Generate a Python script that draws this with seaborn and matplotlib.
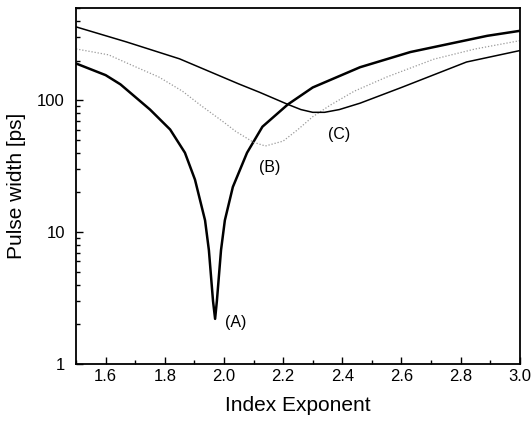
import numpy as np
import pandas as pd

import matplotlib
matplotlib.use("Agg")
import matplotlib.pyplot as plt
import seaborn as sns
from matplotlib.ticker import MultipleLocator, LogLocator, NullFormatter, FixedLocator

# curve (A): thick black
a_x = [1.50, 1.60, 1.65, 1.75, 1.818, 1.868, 1.902, 1.936, 1.949, 1.963, 1.970, 1.976,
       1.99, 2.003, 2.03, 2.078, 2.13, 2.216, 2.30, 2.46, 2.63, 2.89, 3.00]
a_y = [190, 155, 132, 85, 60, 40, 25, 12.3, 7.3, 3.0, 2.2, 3.0,
       7.3, 12.3, 22, 40, 63, 93, 125, 178, 232, 308, 336]

# curve (B): dotted grey
b_x = [1.50, 1.61, 1.68, 1.78, 1.86, 1.92, 2.00, 2.04, 2.10, 2.14, 2.20, 2.25, 2.30,
       2.36, 2.44, 2.55, 2.71, 2.85, 3.00]
b_y = [245, 221, 188, 150, 117, 92, 68, 58, 48, 45, 49, 60, 75,
       92, 117, 150, 205, 245, 283]

# curve (C): thin black
c_x = [1.50, 1.67, 1.85, 2.05, 2.12, 2.216, 2.26, 2.30, 2.34, 2.39, 2.46, 2.60, 2.82, 3.00]
c_y = [360, 277, 206, 133, 115, 93, 85, 81, 81, 85, 95, 125, 195, 238]

labels = ["(A)", "(B)", "(C)"]
label_x = [2.04, 2.155, 2.39]
label_y = [2.05, 31, 55]

df = pd.concat([
    pd.DataFrame({"x": a_x, "y": a_y, "curve": "A"}),
    pd.DataFrame({"x": b_x, "y": b_y, "curve": "B"}),
    pd.DataFrame({"x": c_x, "y": c_y, "curve": "C"}),
])

sns.set_style("ticks")
plt.rcParams["font.family"] = ["Liberation Sans", "DejaVu Sans"]
plt.rcParams.update({"text.color": "black", "axes.labelcolor": "black",
                     "xtick.color": "black", "ytick.color": "black"})

fig = plt.figure(figsize=(5.32, 4.25), dpi=100)
ax = fig.add_axes([0.143, 0.1435, 0.834, 0.8375])

styles = {"A": dict(color="black", lw=1.8, ls="-"),
          "B": dict(color="#9a9a9a", lw=0.9, ls=(0, (1, 1.5))),
          "C": dict(color="black", lw=1.1, ls="-")}
for name, sub in df.groupby("curve"):
    sns.lineplot(data=sub, x="x", y="y", ax=ax, estimator=None, sort=False,
                 legend=False, **styles[name])

for t, x, y in zip(labels, label_x, label_y):
    ax.text(x, y, t, fontsize=11.5, ha="center", va="center")

ax.set_yscale("log")
ax.set_xlim(1.5, 3.0)
ax.set_ylim(1, 500)
ax.xaxis.set_major_locator(FixedLocator([1.6, 1.8, 2.0, 2.2, 2.4, 2.6, 2.8, 3.0]))
ax.xaxis.set_minor_locator(MultipleLocator(0.1))
ax.xaxis.set_major_formatter(matplotlib.ticker.FormatStrFormatter("%.1f"))
ax.yaxis.set_major_locator(FixedLocator([1, 10, 100]))
ax.yaxis.set_major_formatter(matplotlib.ticker.FixedFormatter(["1", "10", "100"]))
ax.yaxis.set_minor_locator(LogLocator(base=10, subs=np.arange(2, 10)))
ax.yaxis.set_minor_formatter(NullFormatter())

ax.tick_params(which="both", direction="in", top=False, right=False, labelsize=12,
               width=1.0, colors="black")
ax.tick_params(which="major", length=5)
ax.tick_params(axis="y", pad=8)
ax.tick_params(which="minor", length=3)
for s in ax.spines.values():
    s.set_linewidth(1.3)
    s.set_color("black")

ax.set_xlabel("Index Exponent", fontsize=15, labelpad=9)
ax.set_ylabel("Pulse width [ps]", fontsize=15, labelpad=8)

fig.savefig("out.png", dpi=100)
